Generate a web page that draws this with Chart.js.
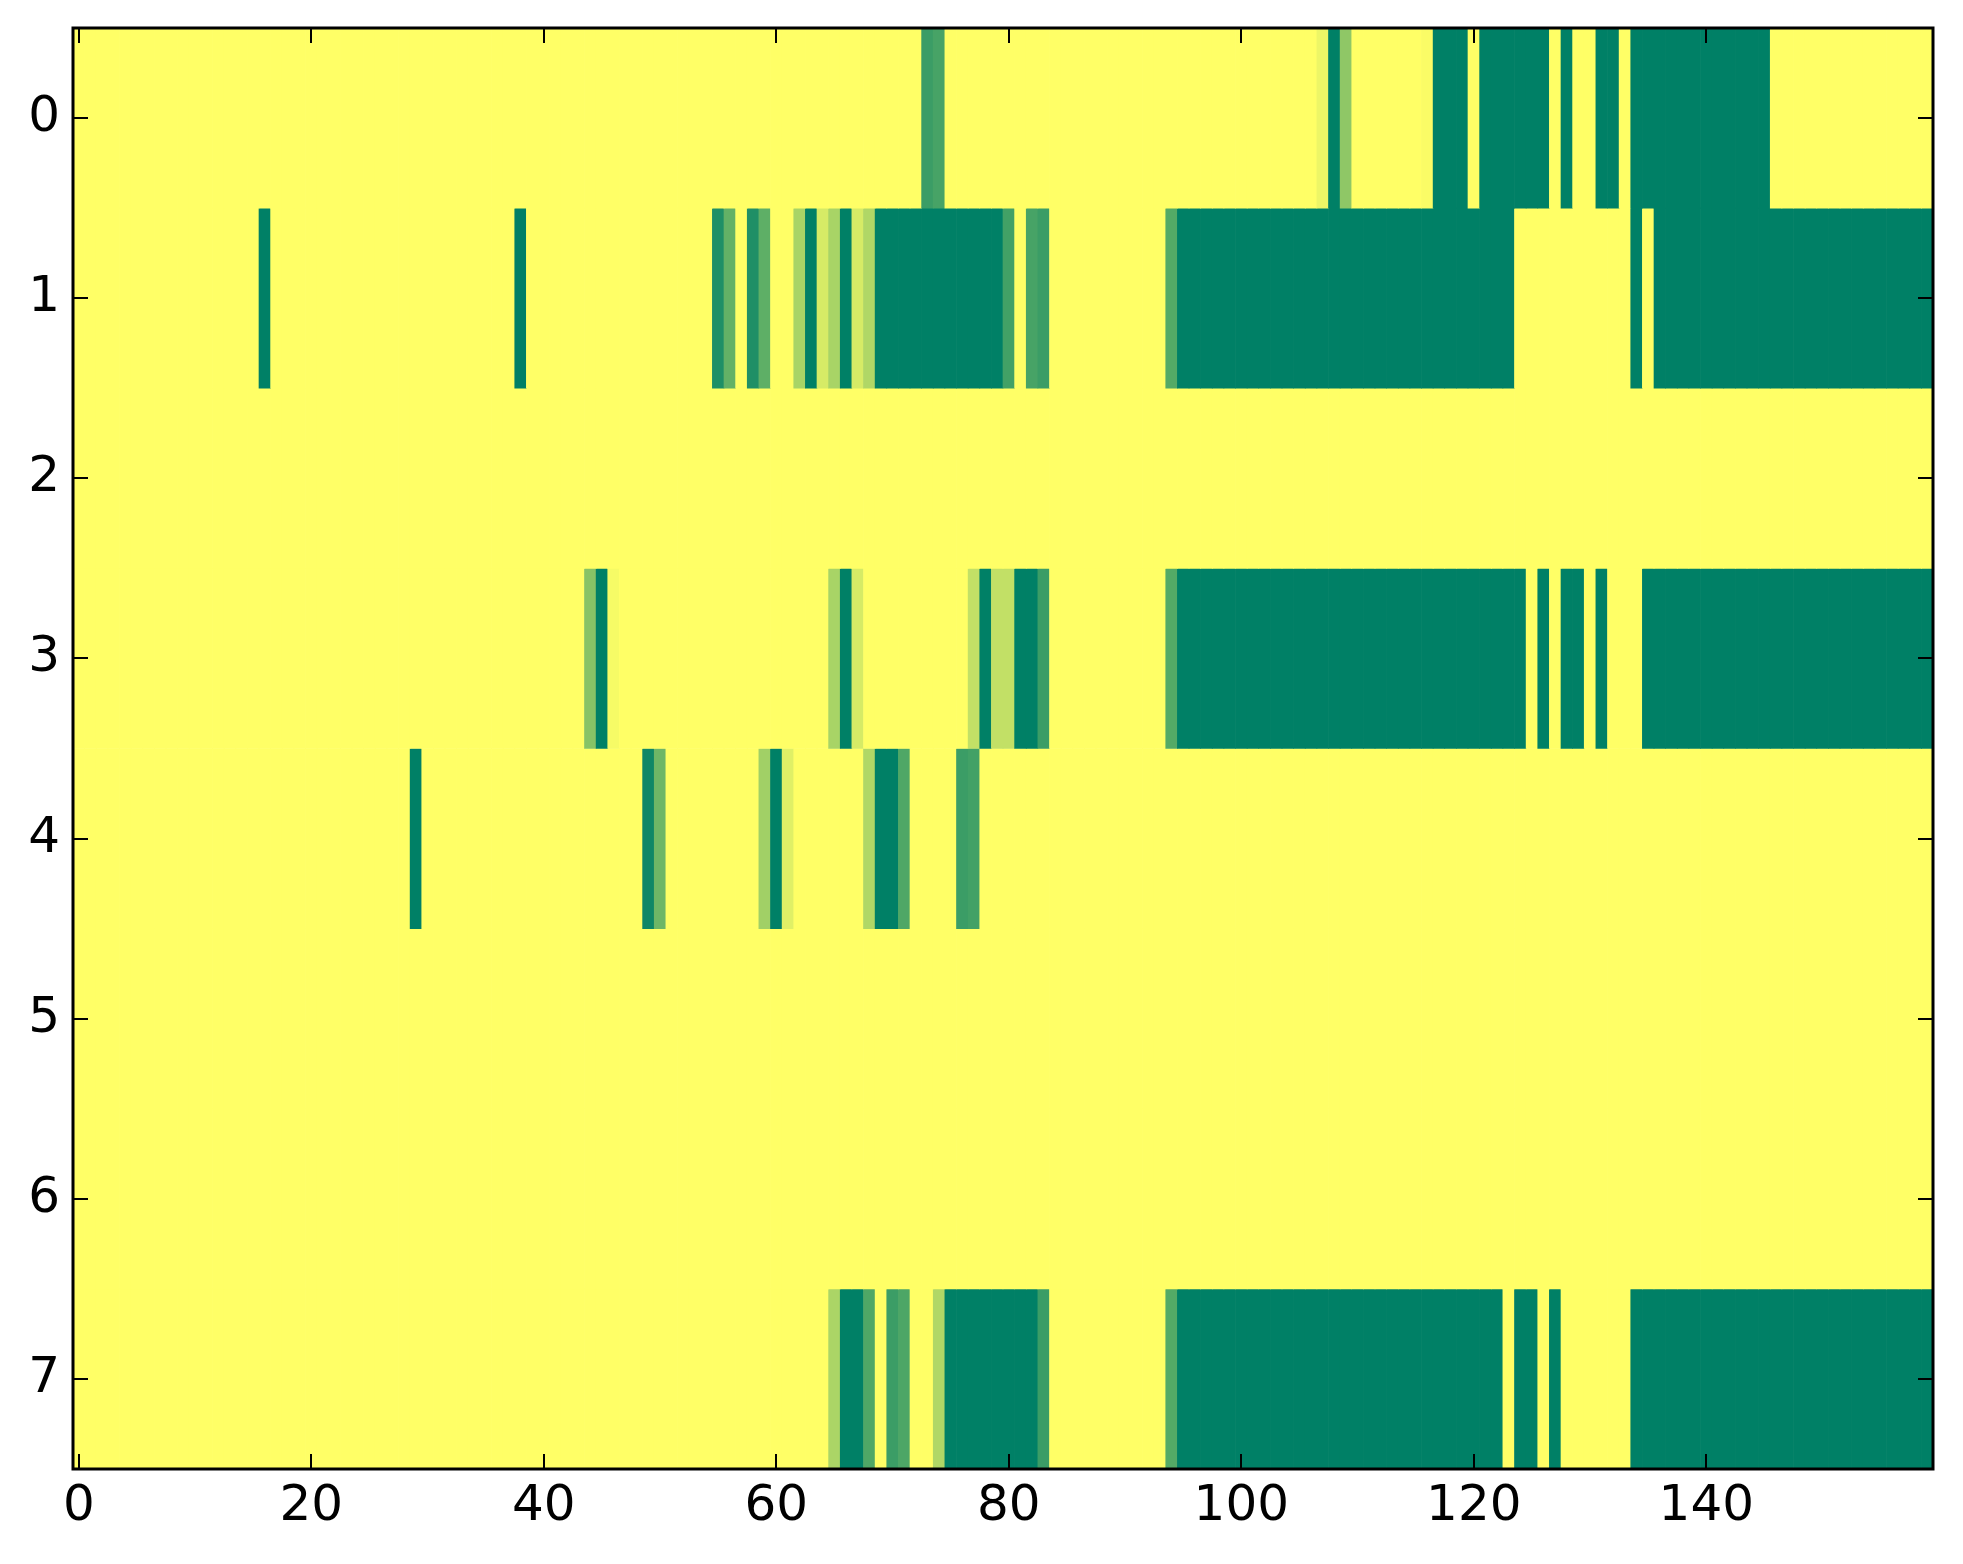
<!DOCTYPE html>
<html>
<head>
<meta charset="utf-8">
<script src="https://cdn.jsdelivr.net/npm/chart.js@4.4.1/dist/chart.umd.min.js"></script>
<style>
  html, body { margin: 0; padding: 0; background: #fff; }
  canvas { display: block; }
</style>
</head>
<body>
<canvas id="heatmap" width="1963" height="1564" style="width:1963px;height:1564px"></canvas>
<script>
// tick labels
const xTicks = [0, 20, 40, 60, 80, 100, 120, 140];
const yTicks = [0, 1, 2, 3, 4, 5, 6, 7];

// one array per image row, 160 columns each (values 0..1, summer_r colormap)
const row0 = [
    0, 0, 0, 0, 0, 0, 0, 0, 0, 0, 0, 0, 0, 0, 0, 0, 0, 0, 0, 0,
    0, 0, 0, 0, 0, 0, 0, 0, 0, 0, 0, 0, 0, 0, 0, 0, 0, 0, 0, 0,
    0, 0, 0, 0, 0, 0, 0, 0, 0, 0, 0, 0, 0, 0, 0, 0, 0, 0, 0, 0,
    0, 0, 0, 0, 0, 0, 0, 0, 0, 0, 0, 0, 0, .77, .72, 0, 0, 0, 0, 0,
    0, 0, 0, 0, 0, 0, 0, 0, 0, 0, 0, 0, 0, 0, 0, 0, 0, 0, 0, 0,
    0, 0, 0, 0, 0, 0, 0, .07, 1, .44, 0, 0, 0, 0, 0, 0, .02, 1, 1, 1,
    0, 1, 1, 1, 1, 1, 1, 0, 1, 0, 0, 1, 1, 0, 1, 1, 1, 1, 1, 1,
    1, 1, 1, 1, 1, 1, 0, 0, 0, 0, 0, 0, 0, 0, 0, 0, 0, 0, 0, 0
];
const row1 = [
    0, 0, 0, 0, 0, 0, 0, 0, 0, 0, 0, 0, 0, 0, 0, 0, 1, 0, 0, 0,
    0, 0, 0, 0, 0, 0, 0, 0, 0, 0, 0, 0, 0, 0, 0, 0, 0, 0, 1, 0,
    0, 0, 0, 0, 0, 0, 0, 0, 0, 0, 0, 0, 0, 0, 0, .88, .61, 0, .88, .63,
    0, 0, .34, 1, .16, .34, 1, .16, .31, 1, 1, 1, 1, 1, 1, 1, 1, 1, 1, 1,
    .74, 0, .72, .77, 0, 0, 0, 0, 0, 0, 0, 0, 0, 0, .67, 1, 1, 1, 1, 1,
    1, 1, 1, 1, 1, 1, 1, 1, 1, 1, 1, 1, 1, 1, 1, 1, 1, 1, 1, 1,
    1, 1, 1, 1, 0, 0, 0, 0, 0, 0, 0, 0, 0, 0, 1, 0, 1, 1, 1, 1,
    1, 1, 1, 1, 1, 1, 1, 1, 1, 1, 1, 1, 1, 1, 1, 1, 1, 1, 1, 1
];
const row2 = [
    0, 0, 0, 0, 0, 0, 0, 0, 0, 0, 0, 0, 0, 0, 0, 0, 0, 0, 0, 0,
    0, 0, 0, 0, 0, 0, 0, 0, 0, 0, 0, 0, 0, 0, 0, 0, 0, 0, 0, 0,
    0, 0, 0, 0, 0, 0, 0, 0, 0, 0, 0, 0, 0, 0, 0, 0, 0, 0, 0, 0,
    0, 0, 0, 0, 0, 0, 0, 0, 0, 0, 0, 0, 0, 0, 0, 0, 0, 0, 0, 0,
    0, 0, 0, 0, 0, 0, 0, 0, 0, 0, 0, 0, 0, 0, 0, 0, 0, 0, 0, 0,
    0, 0, 0, 0, 0, 0, 0, 0, 0, 0, 0, 0, 0, 0, 0, 0, 0, 0, 0, 0,
    0, 0, 0, 0, 0, 0, 0, 0, 0, 0, 0, 0, 0, 0, 0, 0, 0, 0, 0, 0,
    0, 0, 0, 0, 0, 0, 0, 0, 0, 0, 0, 0, 0, 0, 0, 0, 0, 0, 0, 0
];
const row3 = [
    0, 0, 0, 0, 0, 0, 0, 0, 0, 0, 0, 0, 0, 0, 0, 0, 0, 0, 0, 0,
    0, 0, 0, 0, 0, 0, 0, 0, 0, 0, 0, 0, 0, 0, 0, 0, 0, 0, 0, 0,
    0, 0, 0, 0, .47, 1, .035, 0, 0, 0, 0, 0, 0, 0, 0, 0, 0, 0, 0, 0,
    0, 0, 0, 0, 0, .34, 1, .16, 0, 0, 0, 0, 0, 0, 0, 0, 0, .24, 1, .24,
    .24, 1, 1, .77, 0, 0, 0, 0, 0, 0, 0, 0, 0, 0, .67, 1, 1, 1, 1, 1,
    1, 1, 1, 1, 1, 1, 1, 1, 1, 1, 1, 1, 1, 1, 1, 1, 1, 1, 1, 1,
    1, 1, 1, 1, 1, 0, 1, 0, 1, 1, 0, 1, 0, 0, 0, 1, 1, 1, 1, 1,
    1, 1, 1, 1, 1, 1, 1, 1, 1, 1, 1, 1, 1, 1, 1, 1, 1, 1, 1, 1
];
const row4 = [
    0, 0, 0, 0, 0, 0, 0, 0, 0, 0, 0, 0, 0, 0, 0, 0, 0, 0, 0, 0,
    0, 0, 0, 0, 0, 0, 0, 0, 0, 1, 0, 0, 0, 0, 0, 0, 0, 0, 0, 0,
    0, 0, 0, 0, 0, 0, 0, 0, 0, .94, .57, 0, 0, 0, 0, 0, 0, 0, 0, .37,
    1, .12, 0, 0, 0, 0, 0, 0, .31, 1, 1, .69, 0, 0, 0, 0, .77, .74, 0, 0,
    0, 0, 0, 0, 0, 0, 0, 0, 0, 0, 0, 0, 0, 0, 0, 0, 0, 0, 0, 0,
    0, 0, 0, 0, 0, 0, 0, 0, 0, 0, 0, 0, 0, 0, 0, 0, 0, 0, 0, 0,
    0, 0, 0, 0, 0, 0, 0, 0, 0, 0, 0, 0, 0, 0, 0, 0, 0, 0, 0, 0,
    0, 0, 0, 0, 0, 0, 0, 0, 0, 0, 0, 0, 0, 0, 0, 0, 0, 0, 0, 0
];
const row5 = [
    0, 0, 0, 0, 0, 0, 0, 0, 0, 0, 0, 0, 0, 0, 0, 0, 0, 0, 0, 0,
    0, 0, 0, 0, 0, 0, 0, 0, 0, 0, 0, 0, 0, 0, 0, 0, 0, 0, 0, 0,
    0, 0, 0, 0, 0, 0, 0, 0, 0, 0, 0, 0, 0, 0, 0, 0, 0, 0, 0, 0,
    0, 0, 0, 0, 0, 0, 0, 0, 0, 0, 0, 0, 0, 0, 0, 0, 0, 0, 0, 0,
    0, 0, 0, 0, 0, 0, 0, 0, 0, 0, 0, 0, 0, 0, 0, 0, 0, 0, 0, 0,
    0, 0, 0, 0, 0, 0, 0, 0, 0, 0, 0, 0, 0, 0, 0, 0, 0, 0, 0, 0,
    0, 0, 0, 0, 0, 0, 0, 0, 0, 0, 0, 0, 0, 0, 0, 0, 0, 0, 0, 0,
    0, 0, 0, 0, 0, 0, 0, 0, 0, 0, 0, 0, 0, 0, 0, 0, 0, 0, 0, 0
];
const row6 = [
    0, 0, 0, 0, 0, 0, 0, 0, 0, 0, 0, 0, 0, 0, 0, 0, 0, 0, 0, 0,
    0, 0, 0, 0, 0, 0, 0, 0, 0, 0, 0, 0, 0, 0, 0, 0, 0, 0, 0, 0,
    0, 0, 0, 0, 0, 0, 0, 0, 0, 0, 0, 0, 0, 0, 0, 0, 0, 0, 0, 0,
    0, 0, 0, 0, 0, 0, 0, 0, 0, 0, 0, 0, 0, 0, 0, 0, 0, 0, 0, 0,
    0, 0, 0, 0, 0, 0, 0, 0, 0, 0, 0, 0, 0, 0, 0, 0, 0, 0, 0, 0,
    0, 0, 0, 0, 0, 0, 0, 0, 0, 0, 0, 0, 0, 0, 0, 0, 0, 0, 0, 0,
    0, 0, 0, 0, 0, 0, 0, 0, 0, 0, 0, 0, 0, 0, 0, 0, 0, 0, 0, 0,
    0, 0, 0, 0, 0, 0, 0, 0, 0, 0, 0, 0, 0, 0, 0, 0, 0, 0, 0, 0
];
const row7 = [
    0, 0, 0, 0, 0, 0, 0, 0, 0, 0, 0, 0, 0, 0, 0, 0, 0, 0, 0, 0,
    0, 0, 0, 0, 0, 0, 0, 0, 0, 0, 0, 0, 0, 0, 0, 0, 0, 0, 0, 0,
    0, 0, 0, 0, 0, 0, 0, 0, 0, 0, 0, 0, 0, 0, 0, 0, 0, 0, 0, 0,
    0, 0, 0, 0, 0, .33, 1, 1, .69, 0, .77, .7, 0, 0, .31, 1, 1, 1, 1, 1,
    1, 1, 1, .77, 0, 0, 0, 0, 0, 0, 0, 0, 0, 0, .67, 1, 1, 1, 1, 1,
    1, 1, 1, 1, 1, 1, 1, 1, 1, 1, 1, 1, 1, 1, 1, 1, 1, 1, 1, 1,
    1, 1, 1, 0, 1, 1, 0, 1, 0, 0, 0, 0, 0, 0, 1, 1, 1, 1, 1, 1,
    1, 1, 1, 1, 1, 1, 1, 1, 1, 1, 1, 1, 1, 1, 1, 1, 1, 1, 1, 1
];
const rows = [row0, row1, row2, row3, row4, row5, row6, row7];

// matplotlib "summer_r"
function summerR(v) {
    const r = Math.round(255 * (1 - v));
    const g = Math.round(255 * (1 - v / 2));
    return `rgb(${r},${g},102)`;
}

const FONT = { family: '"DejaVu Sans", sans-serif', size: 50 };

// inward tick marks on all four sides plus the black frame
const frameTicks = {
    id: 'frameTicks',
    afterDatasetsDraw(chart) {
        const { ctx, chartArea: a, scales: { x, y } } = chart;
        const len = 15;
        ctx.save();
        ctx.strokeStyle = '#000';
        ctx.lineWidth = 2;
        ctx.beginPath();
        xTicks.forEach(v => {
            const px = Math.round(x.getPixelForValue(v));
            ctx.moveTo(px, a.bottom); ctx.lineTo(px, a.bottom - len);
            ctx.moveTo(px, a.top); ctx.lineTo(px, a.top + len);
        });
        yTicks.forEach(v => {
            const py = Math.round(y.getPixelForValue(v));
            ctx.moveTo(a.left, py); ctx.lineTo(a.left + len, py);
            ctx.moveTo(a.right, py); ctx.lineTo(a.right - len, py);
        });
        ctx.stroke();
        ctx.lineWidth = 3;
        ctx.strokeRect(a.left, a.top, a.right - a.left, a.bottom - a.top);
        ctx.restore();
    }
};

// keep the plot box where the reference has it
function noPadding(scale) {
    scale.paddingTop = 0;
    scale.paddingBottom = 0;
    scale.paddingLeft = 0;
    scale.paddingRight = 0;
}

const datasets = rows.map((vals, r) => ({
    data: vals.map((v, c) => ({ x: c, y: [r - 0.5, r + 0.5] })),
    backgroundColor: vals.map(summerR),
    borderWidth: 0,
    grouped: false,
    barPercentage: 1,
    categoryPercentage: 1
}));

new Chart(document.getElementById('heatmap').getContext('2d'), {
    type: 'bar',
    data: { datasets },
    plugins: [frameTicks],
    options: {
        responsive: false,
        animation: false,
        devicePixelRatio: 1,
        layout: { padding: { top: 28, right: 30, left: 0, bottom: 0 } },
        plugins: { legend: { display: false }, tooltip: { enabled: false } },
        scales: {
            x: {
                type: 'linear',
                min: -0.5,
                max: 159.5,
                offset: false,
                afterBuildTicks: scale => { scale.ticks = xTicks.map(v => ({ value: v })); },
                afterFit: scale => { scale.height = 95; noPadding(scale); },
                ticks: { color: '#000', font: FONT, padding: 8, maxRotation: 0, autoSkip: false },
                grid: { display: false, drawTicks: false },
                border: { display: false }
            },
            y: {
                type: 'linear',
                reverse: true,
                min: -0.5,
                max: 7.5,
                afterBuildTicks: scale => { scale.ticks = yTicks.map(v => ({ value: v })); },
                afterFit: scale => { scale.width = 73; noPadding(scale); },
                ticks: { color: '#000', font: FONT, padding: 13, autoSkip: false },
                grid: { display: false, drawTicks: false },
                border: { display: false }
            }
        }
    }
});
</script>
</body>
</html>
